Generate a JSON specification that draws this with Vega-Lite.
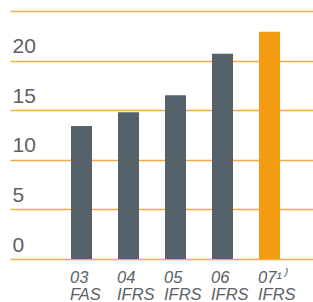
{
  "$schema": "https://vega.github.io/schema/vega-lite/v6.json",
  "autosize": {"type": "none"},
  "padding": {"left": 10, "top": 11, "right": 0, "bottom": 43},
  "width": 303,
  "height": 248,
  "background": "white",
  "data": {"values": [
    {"year": "03|FAS", "value": 13.4, "hl": "n"},
    {"year": "04|IFRS", "value": 14.8, "hl": "n"},
    {"year": "05|IFRS", "value": 16.5, "hl": "n"},
    {"year": "06|IFRS", "value": 20.7, "hl": "n"},
    {"year": "07¹⁾|IFRS", "value": 22.9, "hl": "y"}
  ]},
  "config": {"view": {"stroke": null}},
  "mark": {"type": "bar"},
  "encoding": {
    "x": {
      "field": "year", "type": "nominal", "sort": null,
      "scale": {"paddingInner": 0.553, "paddingOuter": 1.0, "align": 0.649},
      "axis": {
        "title": null, "domain": false, "ticks": false, "grid": false,
        "labelAngle": 0, "labelAlign": "left", "labelBaseline": "top",
        "labelOffset": -11.5, "labelPadding": 10,
        "labelExpr": "split(datum.label, '|')", "labelLineHeight": 17,
        "labelFont": "Liberation Sans", "labelFontSize": 16.5, "labelFontStyle": "italic",
        "labelColor": "#5b6166"
      }
    },
    "y": {
      "field": "value", "type": "quantitative",
      "scale": {"domain": [0, 25], "nice": false},
      "axis": {
        "title": null, "domain": false, "ticks": false,
        "values": [0, 5, 10, 15, 20, 25],
        "labelExpr": "datum.value == 25 ? '' : datum.label",
        "grid": true, "gridColor": "#f5a94a", "gridWidth": 1.5,
        "labelAlign": "left", "labelBaseline": "bottom", "labelPadding": -2, "labelOffset": -4,
        "labelFont": "Liberation Sans", "labelFontSize": 21, "labelColor": "#5b6166"
      }
    },
    "color": {
      "field": "hl", "type": "nominal",
      "scale": {"domain": ["n", "y"], "range": ["#56626a", "#f39c12"]},
      "legend": null
    }
  }
}
